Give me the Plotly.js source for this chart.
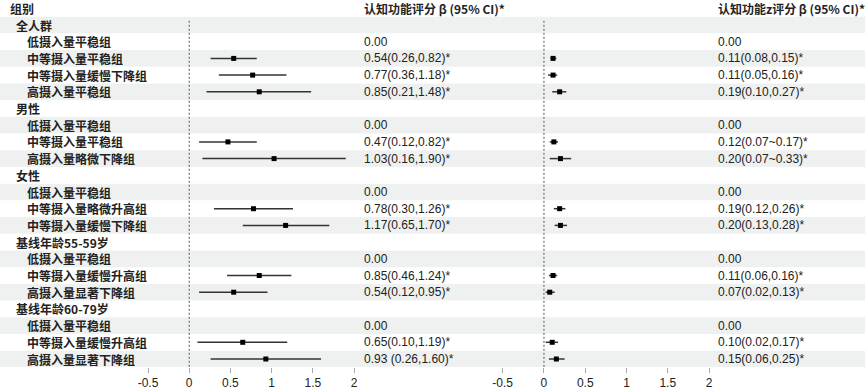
<!DOCTYPE html>
<html>
<head>
<meta charset="utf-8">
<script src="https://cdn.plot.ly/plotly-3.0.1.min.js"></script>
<style>html,body{margin:0;padding:0;background:#fff;}#chart{width:865px;height:392px;}</style>
</head>
<body>
<div id="chart"></div>
<script>
// ---- data ----
const rowLabels = ['全人群','低摄入量平稳组','中等摄入量平稳组','中等摄入量缓慢下降组','高摄入量平稳组',
  '男性','低摄入量平稳组','中等摄入量平稳组','高摄入量略微下降组',
  '女性','低摄入量平稳组','中等摄入量略微升高组','中等摄入量缓慢下降组',
  '基线年龄55-59岁','低摄入量平稳组','中等摄入量缓慢升高组','高摄入量显著下降组',
  '基线年龄60-79岁','低摄入量平稳组','中等摄入量缓慢升高组','高摄入量显著下降组'];
const isGroup = [1,0,0,0,0, 1,0,0,0, 1,0,0,0, 1,0,0,0, 1,0,0,0];

const beta1 = [null,null,0.54,0.77,0.85, null,null,0.47,1.03, null,null,0.78,1.17, null,null,0.85,0.54, null,null,0.65,0.93];
const lo1   = [null,null,0.26,0.36,0.21, null,null,0.12,0.16, null,null,0.30,0.65, null,null,0.46,0.12, null,null,0.10,0.26];
const hi1   = [null,null,0.82,1.18,1.48, null,null,0.82,1.90, null,null,1.26,1.70, null,null,1.24,0.95, null,null,1.19,1.60];
const text1 = ['','0.00','0.54(0.26,0.82)*','0.77(0.36,1.18)*','0.85(0.21,1.48)*',
  '','0.00','0.47(0.12,0.82)*','1.03(0.16,1.90)*',
  '','0.00','0.78(0.30,1.26)*','1.17(0.65,1.70)*',
  '','0.00','0.85(0.46,1.24)*','0.54(0.12,0.95)*',
  '','0.00','0.65(0.10,1.19)*','0.93 (0.26,1.60)*'];

const beta2 = [null,null,0.11,0.11,0.19, null,null,0.12,0.20, null,null,0.19,0.20, null,null,0.11,0.07, null,null,0.10,0.15];
const lo2   = [null,null,0.08,0.05,0.10, null,null,0.07,0.07, null,null,0.12,0.13, null,null,0.06,0.02, null,null,0.02,0.06];
const hi2   = [null,null,0.15,0.16,0.27, null,null,0.17,0.33, null,null,0.26,0.28, null,null,0.16,0.13, null,null,0.17,0.25];
const text2 = ['','0.00','0.11(0.08,0.15)*','0.11(0.05,0.16)*','0.19(0.10,0.27)*',
  '','0.00','0.12(0.07~0.17)*','0.20(0.07~0.33)*',
  '','0.00','0.19(0.12,0.26)*','0.20(0.13,0.28)*',
  '','0.00','0.11(0.06,0.16)*','0.07(0.02,0.13)*',
  '','0.00','0.10(0.02,0.17)*','0.15(0.06,0.25)*'];

const headerLabel = '组别';
const header1 = '认知功能评分 β (95% CI)*';
const header2 = '认知功能z评分 β (95% CI)*';
const tickVals = [-0.5,0,0.5,1,1.5,2];
const tickText = ['-0.5','0','0.5','1','1.5','2'];

// ---- build ----
const W = 865, H = 392;
const rows = rowLabels.map((_, i) => i);
const FONT = 'Liberation Sans, Arial, Noto Sans CJK SC, sans-serif';
const CJK = 'Noto Sans CJK SC, Liberation Sans, sans-serif';

function ciTrace(b, lo, hi, xa) {
  return {
    type: 'scatter', mode: 'markers', xaxis: xa, yaxis: 'y',
    x: b, y: rows,
    marker: {symbol: 'square', size: 5, color: '#000'},
    error_x: {
      type: 'data', symmetric: false,
      array: b.map((v, i) => v == null ? null : hi[i] - v),
      arrayminus: b.map((v, i) => v == null ? null : v - lo[i]),
      color: '#333', thickness: 1.5, width: 0
    },
    hoverinfo: 'skip', showlegend: false, cliponaxis: false
  };
}

const shapes = [];
rows.forEach(i => {
  if (i % 2 === 0) shapes.push({type:'rect', xref:'paper', yref:'y', x0:0, x1:1, y0:i-0.5, y1:i+0.5,
    fillcolor:'#eff1f0', line:{width:0}, layer:'below'});
});
['x','x2'].forEach(xa => shapes.push({type:'line', xref:xa, yref:'y', x0:0, x1:0, y0:-0.25, y1:20.48,
  line:{color:'#555', width:1, dash:'2px,2px'}}));

const annotations = [];
annotations.push({xref:'paper', yref:'y', x:8/W, y:-1, text:headerLabel, showarrow:false, xanchor:'left', yanchor:'middle',
  font:{family:CJK, size:12, color:'#222', weight:'bold'}});
annotations.push({xref:'paper', yref:'y', x:362/W, y:-1, text:header1, showarrow:false, xanchor:'left', yanchor:'middle',
  font:{family:CJK, size:12, color:'#222', weight:'bold'}});
annotations.push({xref:'paper', yref:'y', x:716/W, y:-1, text:header2, showarrow:false, xanchor:'left', yanchor:'middle',
  font:{family:CJK, size:12, color:'#222', weight:'bold'}});
rows.forEach(i => {
  annotations.push({xref:'paper', yref:'y', x:(isGroup[i] ? 14 : 25)/W, y:i, text:rowLabels[i], showarrow:false,
    xanchor:'left', yanchor:'middle', font:{family:CJK, size:12, color:'#222', weight:'bold'}});
  if (text1[i]) annotations.push({xref:'paper', yref:'y', x:362/W, y:i, text:text1[i], showarrow:false,
    xanchor:'left', yanchor:'middle', font:{family:FONT, size:12, color:'#222'}});
  if (text2[i]) annotations.push({xref:'paper', yref:'y', x:716/W, y:i, text:text2[i], showarrow:false,
    xanchor:'left', yanchor:'middle', font:{family:FONT, size:12, color:'#222'}});
});

const xaxisBase = {
  range:[-0.5, 2], tickvals:tickVals, ticktext:tickText, ticks:'outside', ticklen:5, tickcolor:'#aaa', tickwidth:1,
  showgrid:false, zeroline:false, showline:false, anchor:'y', fixedrange:true,
  tickfont:{family:FONT, size:12, color:'#222'}
};

const layout = {
  width:W, height:H, margin:{l:0, r:0, t:0, b:0}, paper_bgcolor:'#fff', plot_bgcolor:'rgba(0,0,0,0)',
  showlegend:false,
  xaxis: Object.assign({}, xaxisBase, {domain:[148/W, 354/W]}),
  xaxis2: Object.assign({}, xaxisBase, {domain:[502.7/W, 709/W]}),
  yaxis: {domain:[(H-367)/H, 1], range:[20.479, -1.497], visible:false, fixedrange:true},
  shapes, annotations
};

Plotly.newPlot('chart', [ciTrace(beta1, lo1, hi1, 'x'), ciTrace(beta2, lo2, hi2, 'x2')], layout, {displayModeBar:false, staticPlot:true});
</script>
</body>
</html>
